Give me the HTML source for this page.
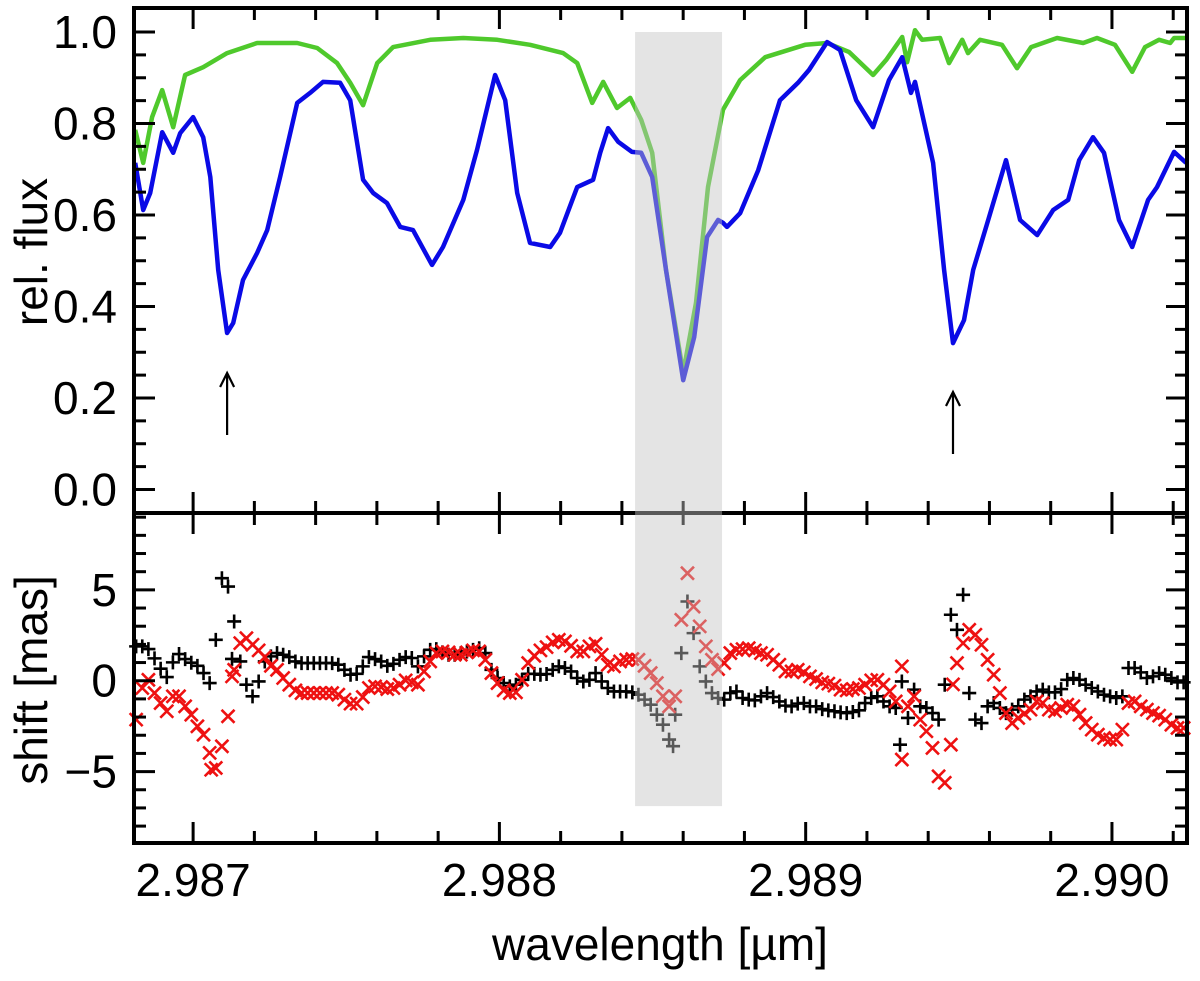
<!DOCTYPE html>
<html><head><meta charset="utf-8">
<style>
html,body{margin:0;padding:0;background:#fff;}
svg{display:block;font-family:"Liberation Sans",Arial,sans-serif;}
</style></head>
<body>
<svg id="chart" width="1200" height="981" viewBox="0 0 1200 981" xmlns="http://www.w3.org/2000/svg">
<g id="topPlot"></g>
<g id="botPlot"></g>
<g id="axes"></g>
<g id="labels"></g>
</svg>
<script>
// ---- data ----
const blueWl = [2.986811,2.986837,2.986860,2.986899,2.986935,2.986958,2.987000,2.987033,2.987056,2.987082,2.987111,2.987131,2.987163,2.987209,2.987242,2.987284,2.987340,2.987382,2.987424,2.987480,2.987513,2.987555,2.987588,2.987633,2.987676,2.987718,2.987780,2.987816,2.987882,2.987927,2.987986,2.988019,2.988058,2.988100,2.988166,2.988198,2.988254,2.988306,2.988329,2.988355,2.988388,2.988433,2.988463,2.988499,2.988544,2.988600,2.988636,2.988678,2.988714,2.988730,2.988743,2.988786,2.988845,2.988916,2.988975,2.989011,2.989070,2.989112,2.989165,2.989220,2.989272,2.989315,2.989344,2.989357,2.989416,2.989452,2.989481,2.989517,2.989547,2.989596,2.989654,2.989700,2.989756,2.989808,2.989857,2.989893,2.989938,2.989974,2.990023,2.990066,2.990118,2.990147,2.990203,2.990242];
const blueFlux = [0.714,0.611,0.648,0.781,0.736,0.779,0.814,0.770,0.683,0.480,0.342,0.364,0.458,0.517,0.567,0.683,0.845,0.867,0.891,0.889,0.851,0.677,0.648,0.626,0.574,0.567,0.491,0.530,0.633,0.742,0.906,0.851,0.648,0.539,0.530,0.561,0.661,0.677,0.736,0.790,0.760,0.738,0.736,0.683,0.480,0.239,0.333,0.552,0.589,0.583,0.574,0.604,0.698,0.851,0.889,0.917,0.978,0.961,0.851,0.792,0.895,0.945,0.867,0.891,0.714,0.480,0.320,0.370,0.480,0.589,0.720,0.589,0.556,0.611,0.633,0.720,0.770,0.736,0.589,0.530,0.633,0.661,0.738,0.714];
const greenWl = [2.986811,2.986837,2.986866,2.986899,2.986935,2.986974,2.987033,2.987111,2.987209,2.987340,2.987405,2.987470,2.987513,2.987555,2.987601,2.987653,2.987774,2.987882,2.987993,2.988100,2.988208,2.988254,2.988303,2.988339,2.988384,2.988427,2.988463,2.988499,2.988544,2.988600,2.988642,2.988681,2.988730,2.988786,2.988868,2.988998,2.989070,2.989142,2.989220,2.989263,2.989315,2.989331,2.989357,2.989380,2.989439,2.989468,2.989511,2.989530,2.989569,2.989641,2.989690,2.989736,2.989821,2.989906,2.989951,2.990010,2.990066,2.990108,2.990154,2.990190,2.990203,2.990242];
const greenFlux = [0.786,0.714,0.814,0.873,0.792,0.906,0.923,0.954,0.976,0.976,0.965,0.932,0.889,0.840,0.932,0.967,0.983,0.987,0.983,0.972,0.954,0.932,0.845,0.891,0.834,0.856,0.808,0.736,0.480,0.255,0.408,0.661,0.830,0.895,0.945,0.972,0.976,0.956,0.906,0.939,0.989,0.934,1.004,0.983,0.987,0.932,0.983,0.954,0.983,0.972,0.921,0.967,0.987,0.976,0.987,0.972,0.913,0.967,0.983,0.976,0.987,0.987];
const shiftWlStart = 2.986814;
const shiftWlStep = 0.00002;
const shiftBlack = [1.89,1.89,1.74,1.23,0.66,0.20,1.01,1.47,1.19,0.99,0.82,0.42,-0.13,2.25,5.64,5.18,3.26,1.06,-0.22,-0.86,-0.04,1.06,1.34,1.52,1.43,1.30,1.06,0.97,0.97,0.97,0.97,0.97,0.97,0.88,0.60,0.33,0.38,0.79,1.30,1.19,1.06,0.82,0.93,1.15,1.30,1.25,0.79,1.34,1.70,1.74,1.56,1.43,1.43,1.52,1.61,1.70,1.79,1.52,
0.60,0.15,-0.13,-0.31,-0.22,0.05,0.38,0.38,0.33,0.37,0.60,0.79,0.70,0.51,0.15,-0.04,0.05,0.42,-0.04,-0.40,-0.59,-0.59,-0.59,-0.64,-0.77,-1.04,-1.32,-1.87,-2.42,-3.24,-1.87,1.52,4.36,2.62,0.79,-0.04,-0.68,-0.95,-1.04,-0.68,-0.59,-0.95,-1.04,-1.08,-0.86,-0.68,-0.90,-1.14,-1.37,-1.41,-1.26,-1.23,-1.41,-1.41,-1.56,-1.63,-1.68,
-1.74,-1.78,-1.72,-1.63,-1.23,-0.95,-0.86,-1.14,-1.41,-1.50,-0.04,-2.05,-0.49,-1.41,-1.50,-1.78,-2.14,-0.22,3.63,2.80,4.73,-0.68,-2.14,-2.33,-1.41,-1.23,-1.50,-1.78,-1.59,-1.41,-1.04,-0.86,-0.59,-0.49,-0.64,-0.64,-0.46,0.05,0.15,0.05,-0.22,-0.40,-0.59,-0.77,-0.86,-0.95,-0.86,0.70,0.70,0.46,0.15,0.24,0.42,0.33,0.15,-0.09,-0.09];
const shiftRed = [-2.14,-0.40,0.05,-0.68,-1.23,-1.68,-0.86,-0.86,-1.41,-1.87,-2.51,-2.97,-3.97,-4.80,-3.61,-1.96,0.60,2.07,2.34,1.98,1.67,1.30,0.82,0.60,0.15,-0.22,-0.53,-0.68,-0.68,-0.68,-0.68,-0.68,-0.68,-0.77,-1.04,-1.26,-1.26,-0.90,-0.40,-0.31,-0.35,-0.46,-0.40,-0.22,0.02,-0.09,-0.22,0.51,1.06,1.52,1.61,1.56,1.43,1.43,1.56,1.67,1.61,1.15,
0.42,-0.13,-0.53,-0.68,-0.64,0.05,0.97,1.37,1.67,1.85,2.11,2.25,2.16,1.92,1.61,1.61,1.89,2.03,1.43,0.88,0.79,1.06,1.15,1.19,1.15,0.82,0.42,-0.13,-0.86,-1.41,-0.86,3.35,5.92,4.08,2.99,1.89,1.15,0.64,0.97,1.52,1.70,1.74,1.79,1.67,1.52,1.43,1.15,0.88,0.51,0.51,0.60,0.46,0.24,0.09,-0.09,-0.16,-0.27,
-0.49,-0.53,-0.46,-0.40,-0.22,0.02,0.05,-0.22,-0.59,-1.14,0.79,-1.41,-0.86,-2.14,-2.78,-3.70,-5.26,-5.62,-3.52,0.97,2.07,2.80,2.53,1.98,1.15,0.33,-0.68,-1.78,-2.33,-2.05,-1.81,-1.59,-1.14,-1.23,-1.59,-1.68,-1.50,-1.32,-1.41,-1.87,-2.33,-2.69,-2.97,-3.15,-3.24,-3.24,-2.69,-1.23,-1.14,-1.41,-1.59,-1.78,-1.92,-2.14,-2.42,-2.60,-2.60];
const extraBlackWl = [2.987127, 2.989308, 2.988567];
const extraBlackShift = [1.20, -3.52, -3.60];
const extraRedWl = [2.987127, 2.989314, 2.989481, 2.987059];
const extraRedShift = [0.24, -4.34, -0.20, -4.90];
const arrowWl = [2.987111, 2.989481];
const fluxTicks = [0.0,0.2,0.4,0.6,0.8,1.0];
const shiftTicks = [-5,0,5];
const wlTicks = [2.987,2.988,2.989,2.990];
const wlTickLabels = ["2.987","2.988","2.989","2.990"];
const bandWl = [2.988443, 2.988727];

// ---- geometry ----
const L=134, R=1187, T=8, M=513, B=843;
const wlMin = 2.986807, wlMax = 2.990245;
const X = w => L + (w - wlMin)/(wlMax - wlMin)*(R-L);
const fluxMin=-0.0514, fluxMax=1.0525;
const YF = f => M - (f - fluxMin)/(fluxMax-fluxMin)*(M-T);
const sMin=-8.93, sMax=9.23;
const YS = s => B - (s - sMin)/(sMax-sMin)*(B-M);
const NS="http://www.w3.org/2000/svg";
function mk(tag, attrs, parent){const e=document.createElementNS(NS,tag);for(const k in attrs)e.setAttribute(k,attrs[k]);parent.appendChild(e);return e;}

const topG=document.getElementById('topPlot'), botG=document.getElementById('botPlot'), axesG=document.getElementById('axes'), labelsG=document.getElementById('labels');

function pathOf(xs, ys, fy){return xs.map((w,i)=>(i?'L':'M')+X(w).toFixed(1)+','+fy(ys[i]).toFixed(1)).join(' ');}
const gLine=mk('path',{d:pathOf(greenWl,greenFlux,YF),fill:'none',stroke:'#4fc92c','stroke-width':4.5,'stroke-linejoin':'round'},topG);


const bLine=mk('path',{d:pathOf(blueWl,blueFlux,YF),fill:'none',stroke:'#0a0ae6','stroke-width':4.5,'stroke-linejoin':'round'},topG);



arrowWl.forEach((w,i)=>{
  const ax=X(w), ytop = i===0?373:392;
  const a=mk('g',{},topG);
  
  
  mk('line',{x1:ax,y1:ytop+62,x2:ax,y2:ytop+2,stroke:'#000','stroke-width':2.2},a);
  mk('path',{d:`M${ax-7},${ytop+14} L${ax},${ytop} L${ax+7},${ytop+14}`,fill:'none',stroke:'#000','stroke-width':2.2},a);
});

function plus(x,y,parent){const p=mk('path',{d:`M${x-7},${y} H${x+7} M${x},${y-7} V${y+7}`,stroke:'#000','stroke-width':2.6,fill:'none'},parent);
  
  }
function cross(x,y,parent){const p=mk('path',{d:`M${x-6.5},${y-6.5} L${x+6.5},${y+6.5} M${x-6.5},${y+6.5} L${x+6.5},${y-6.5}`,stroke:'#ee1111','stroke-width':2.6,fill:'none'},parent);
  
  }
shiftBlack.forEach((v,i)=>plus(X(shiftWlStart+i*shiftWlStep),YS(v),botG));
extraBlackWl.forEach((w,i)=>plus(X(w),YS(extraBlackShift[i]),botG));
shiftRed.forEach((v,i)=>cross(X(shiftWlStart+i*shiftWlStep),YS(v),botG));
extraRedWl.forEach((w,i)=>cross(X(w),YS(extraRedShift[i]),botG));

function ln(x1,y1,x2,y2,w){return mk('line',{x1,y1,x2,y2,stroke:'#000','stroke-width':w||3},axesG);}
const fr=mk('rect',{x:L,y:T,width:R-L,height:B-T,fill:'none',stroke:'#000','stroke-width':4},axesG);


const mid=ln(L,M,R,M,4);


const MAJ=21, MIN=12;
for(let k=-1;k<=17;k++){
  const w=2.987+k*0.0002; const x=X(w); if(x<L+2||x>R-2) continue;
  const len = (k%5===0)?MAJ:MIN;
  ln(x,T,x,T+len); ln(x,M,x,M-len); ln(x,M,x,M+len); ln(x,B,x,B-len);
}
for(let k=-1;k<=21;k++){const f=k*0.05; const y=YF(f); if(y<T+2||y>M-2)continue; const len=(k%4===0)?MAJ:MIN; ln(L,y,L+len,y); ln(R,y,R-len,y);}
for(let s=-8;s<=9;s++){const y=YS(s); if(y<M+2||y>B-2)continue; const len=(s%5===0)?MAJ:MIN; ln(L,y,L+len,y); ln(R,y,R-len,y);}

const band=mk('rect',{x:X(bandWl[0]),y:YF(1.0),width:X(bandWl[1])-X(bandWl[0]),height:YS(-6.9)-YF(1.0),fill:'#c4c4c4','fill-opacity':0.45},labelsG);



function txt(s,x,y,attrs,name){const t=mk('text',Object.assign({x,y,'font-size':46,fill:'#000'},attrs||{}),labelsG);t.textContent=s;
  
  return t;}
fluxTicks.forEach(f=>txt(f.toFixed(1),117,YF(f)+16,{'text-anchor':'end'},'y-tick-label'));
shiftTicks.forEach(s=>txt(s<0?'\u2212'+Math.abs(s):String(s),117,YS(s)+16,{'text-anchor':'end'},'y2-tick-label'));
wlTicks.forEach((w,i)=>txt(wlTickLabels[i],X(w),896,{'text-anchor':'middle'},'x-tick-label'));
txt('wavelength [\u00b5m]',660,960,{'text-anchor':'middle'},'x-axis-title');
txt('rel. flux',47,252,{'text-anchor':'middle',transform:'rotate(-90 47 252)'},'y-axis-title');
txt('shift [mas]',47,680,{'text-anchor':'middle',transform:'rotate(-90 47 680)'},'y2-axis-title');
</script>
</body></html>
